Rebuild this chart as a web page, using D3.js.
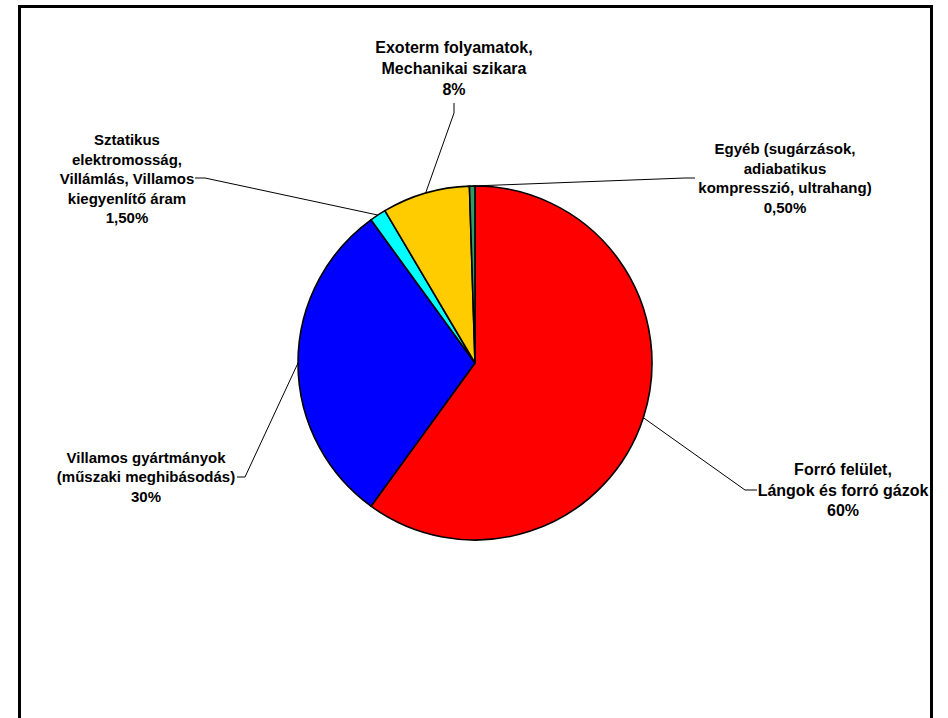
<!DOCTYPE html>
<html>
<head>
<meta charset="utf-8">
<script src="https://cdn.jsdelivr.net/npm/d3@7"></script>
<style>
  body { margin: 0; background: #fff; }
  text { font-family: "Liberation Sans", Arial, sans-serif; font-weight: bold; fill: #000; }
</style>
</head>
<body>
<div class="container-viewer"></div>
<script>
//* DATOS *//
// Categorias (cada etiqueta partida en lineas como en el original)
const categories = [
  ['Forró felület,', 'Lángok és forró gázok'],
  ['Villamos gyártmányok', '(műszaki meghibásodás)'],
  ['Sztatikus', 'elektromosság,', 'Villámlás, Villamos', 'kiegyenlítő áram'],
  ['Exoterm folyamatok,', 'Mechanikai szikara'],
  ['Egyéb (sugárzások,', 'adiabatikus', 'kompresszió, ultrahang)']
];
const values = [60, 30, 1.5, 8, 0.5];
const valueLabels = ['60%', '30%', '1,50%', '8%', '0,50%'];
const colors = ['#FF0000', '#0000FF', '#00FFFF', '#FFCC00', '#339966'];

//* LAYOUT de etiquetas (centro del texto, codo y final de la linea guia) *//
const labelLayout = [
  { x: 843, y: 490, size: 16, lh: 20.5, elbow: [745, 490], end: [757, 490] },
  { x: 146, y: 477, size: 15, lh: 19.5, elbow: [245, 477], end: [237, 477] },
  { x: 127, y: 179, size: 15, lh: 19.5, elbow: [205, 178], end: [195, 178] },
  { x: 454, y: 68, size: 16, lh: 21, elbow: [454, 113], end: [454, 103] },
  { x: 785, y: 178, size: 15, lh: 19.5, elbow: [685, 178], end: [695, 178] }
];

const width = 948, height = 718;
const cx = 475, cy = 363, radius = 177;

const svg = d3.select('.container-viewer').append('svg')
  .attr('width', width).attr('height', height);

svg.append('rect').attr('width', width).attr('height', height).attr('fill', '#fff');

// recorte para que el texto no salga del marco
svg.append('clipPath').attr('id', 'inner')
  .append('rect').attr('x', 21).attr('y', 8).attr('width', 909).attr('height', 720);

const g = svg.append('g').attr('clip-path', 'url(#inner)');

const pie = d3.pie().sort(null).value(d => d);
const arcs = pie(values);
const arc = d3.arc().innerRadius(0).outerRadius(radius);

const pieG = g.append('g').attr('transform', `translate(${cx},${cy})`);
pieG.selectAll('path')
  .data(arcs)
  .enter()
  .append('path')
  .attr('d', arc)
  .attr('fill', (d, i) => colors[i])
  .attr('stroke', '#000')
  .attr('stroke-width', 1.6)
  .attr('stroke-linejoin', 'round');

// lineas guia: desde el borde del sector (angulo medio) hasta la etiqueta
const line = d3.line();
g.selectAll('path.leader')
  .data(arcs)
  .enter()
  .append('path')
  .attr('class', 'leader')
  .attr('d', (d, i) => {
    const a = (d.startAngle + d.endAngle) / 2;
    const p0 = [cx + radius * Math.sin(a), cy - radius * Math.cos(a)];
    const L = labelLayout[i];
    return line([p0, L.elbow, L.end]);
  })
  .attr('fill', 'none')
  .attr('stroke', '#000')
  .attr('stroke-width', 1);

// etiquetas
arcs.forEach((d, i) => {
  const L = labelLayout[i];
  const lines = categories[i].concat([valueLabels[i]]);
  const n = lines.length;
  const t = g.append('text')
    .attr('text-anchor', 'middle')
    .style('font-size', L.size + 'px');
  lines.forEach((s, j) => {
    t.append('tspan')
      .attr('x', L.x)
      .attr('y', L.y + (j - (n - 1) / 2) * L.lh + L.size * 0.36)
      .text(s);
  });
});

// marco
svg.append('rect')
  .attr('x', 19.5).attr('y', 6.5)
  .attr('width', 912).attr('height', 730)
  .attr('fill', 'none')
  .attr('stroke', '#000')
  .attr('stroke-width', 3);
</script>
</body>
</html>
